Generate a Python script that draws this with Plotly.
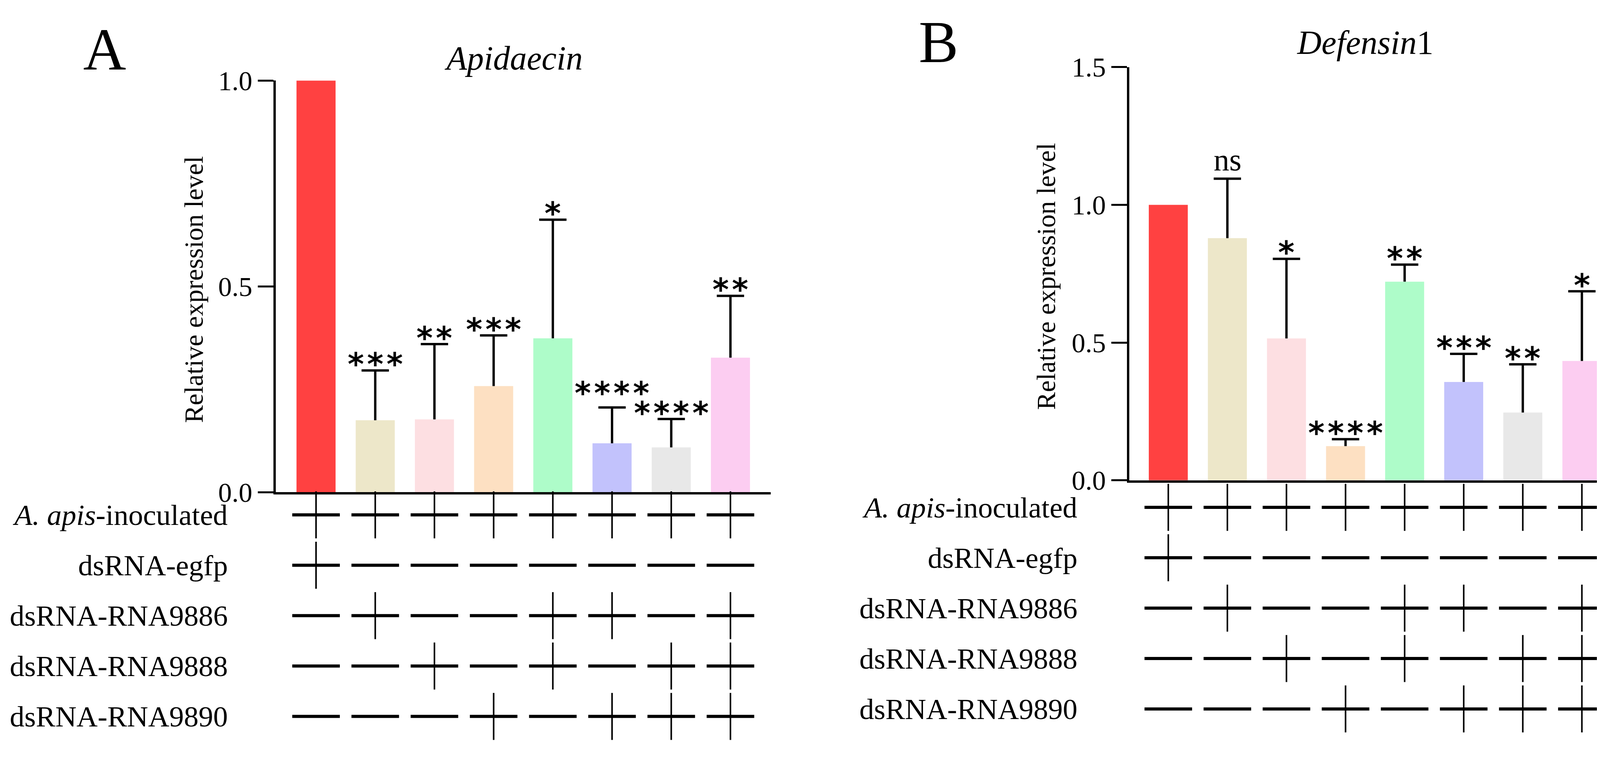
import plotly.graph_objects as go

W, H = 4181, 1951
PAGE_PAD = 8  # default body margin of the html page

# bar heights, upper SD and significance marks
apid_mean = [1.0, 0.175, 0.177, 0.258, 0.374, 0.119, 0.109, 0.327]
apid_sd = [None, 0.121, 0.183, 0.123, 0.288, 0.087, 0.069, 0.150]
apid_sig = ["", "***", "**", "***", "*", "****", "****", "**"]

def_mean = [1.0, 0.879, 0.515, 0.124, 0.721, 0.357, 0.246, 0.433]
def_sd = [None, 0.216, 0.289, 0.025, 0.062, 0.102, 0.175, 0.253]
def_sig = ["", "ns", "*", "****", "**", "***", "**", "*"]

bar_colors = ["#FF4141", "#EDE7C9", "#FDDFE2", "#FDE0C2",
              "#AEFCC9", "#C2C2FC", "#E8E8E8", "#FCCDF1"]

# treatment table under the bars
row_labels = ["<i>A. apis</i>-inoculated", "dsRNA-egfp", "dsRNA-RNA9886",
              "dsRNA-RNA9888", "dsRNA-RNA9890"]
inoculated = ["+", "+", "+", "+", "+", "+", "+", "+"]
egfp = ["+", "-", "-", "-", "-", "-", "-", "-"]
rna9886 = ["-", "+", "-", "-", "+", "+", "-", "+"]
rna9888 = ["-", "-", "+", "-", "+", "-", "+", "+"]
rna9890 = ["-", "-", "-", "+", "-", "+", "+", "+"]
table_rows = [inoculated, egfp, rna9886, rna9888, rna9890]

SERIF = "Liberation Serif"
STAR_FONT = "DejaVu Sans"
STAR_SIZE = 80
STAR_H = 32      # approx glyph height of the asterisks, px
STAR_GAP = 20    # gap between cap and stars, px


def px(v):
    return (v - PAGE_PAD) / W


def py(v):
    return 1 - (v - PAGE_PAD) / H


def star_width(s):
    return 48 * len(s) - 14


fig = go.Figure()
annotations = []


def add_panel(xa, ya, ta, means, sds, sigs, title, letter, geo):
    idx = list(range(len(means)))
    xref, yref, tref = xa.replace("axis", ""), ya.replace("axis", ""), ta.replace("axis", "")
    fig.add_trace(go.Bar(x=idx, y=means, width=0.66,
                         marker=dict(color=bar_colors, line=dict(width=0)),
                         xaxis=xref, yaxis=yref, showlegend=False))

    # upper-only SD bars: stem + cap
    tops = [m + s if s is not None else None for m, s in zip(means, sds)]
    ex, ey, cx, cy = [], [], [], []
    for i, (m, t) in enumerate(zip(means, tops)):
        if t is None:
            continue
        ex += [i, i, None]
        ey += [m, t, None]
        cx.append(i)
        cy.append(t)
    fig.add_trace(go.Scatter(x=ex, y=ey, mode="lines", line=dict(color="black", width=6),
                             xaxis=xref, yaxis=yref, showlegend=False, hoverinfo="skip"))
    fig.add_trace(go.Scatter(x=cx, y=cy, mode="markers", xaxis=xref, yaxis=yref,
                             marker=dict(symbol="line-ew", size=50, line=dict(width=6, color="black")),
                             showlegend=False, hoverinfo="skip"))

    # significance labels; raise a label when it would run into its neighbour
    ppu = (geo["y0"] - geo["y1"]) / geo["ymax"]      # px per unit
    pitch = (geo["x1"] - geo["x0"]) / (geo["xrange"][1] - geo["xrange"][0])
    bottoms = {}
    for i, s in enumerate(sigs):
        if s:
            cap_px = geo["y0"] - tops[i] * ppu
            bottoms[i] = cap_px - STAR_GAP
    keys = sorted(bottoms)
    for a, b in zip(keys, keys[1:]):
        if b != a + 1 or "ns" in (sigs[a], sigs[b]):
            continue
        if (star_width(sigs[a]) + star_width(sigs[b])) / 2 <= pitch:
            continue
        hi, lo = (a, b) if bottoms[a] < bottoms[b] else (b, a)
        limit = bottoms[lo] - STAR_H - STAR_GAP
        if bottoms[hi] > limit:
            bottoms[hi] = limit

    for i, s in enumerate(sigs):
        if not s:
            continue
        cap_px = geo["y0"] - tops[i] * ppu
        if s == "ns":
            annotations.append(dict(x=i, y=tops[i], xref=xref, yref=yref, text=s, showarrow=False,
                                    xanchor="center", yanchor="bottom", yshift=2,
                                    font=dict(family=SERIF, size=80, color="black")))
        else:
            lift = cap_px - bottoms[i]
            annotations.append(dict(x=i, y=tops[i], xref=xref, yref=yref,
                                    text="\u200a".join(s), showarrow=False,
                                    xanchor="center", yanchor="bottom",
                                    yshift=lift - 0.66 * STAR_SIZE,
                                    font=dict(family=STAR_FONT, size=STAR_SIZE, color="black",
                                              weight="bold")))

    # +/- marks
    hx, hy, vx, vy = [], [], [], []
    for r, signs in enumerate(table_rows):
        for c, s in enumerate(signs):
            hx.append(c)
            hy.append(r)
            if s == "+":
                vx.append(c)
                vy.append(r)
    fig.add_trace(go.Scatter(x=hx, y=hy, mode="markers", xaxis=xref, yaxis=tref,
                             marker=dict(symbol="line-ew", size=87, line=dict(width=8, color="black")),
                             showlegend=False, hoverinfo="skip"))
    fig.add_trace(go.Scatter(x=vx, y=vy, mode="markers", xaxis=xref, yaxis=tref,
                             marker=dict(symbol="line-ns", size=86, line=dict(width=4, color="black")),
                             showlegend=False, hoverinfo="skip"))
    for r, lab in enumerate(row_labels):
        annotations.append(dict(x=px(geo["label_right"]), xref="paper", y=r, yref=tref, text=lab,
                                showarrow=False, xanchor="right", yanchor="middle",
                                font=dict(family=SERIF, size=75, color="black")))

    # panel letter, gene title, y title
    annotations.append(dict(x=px(geo["letter_x"]), y=py(geo["letter_base"] + 33), xref="paper", yref="paper",
                            text=letter, showarrow=False, xanchor="center", yanchor="bottom",
                            font=dict(family=SERIF, size=152, color="black")))
    annotations.append(dict(x=px(geo["title_x"]), y=py(geo["title_base"] + 19), xref="paper", yref="paper",
                            text=title, showarrow=False, xanchor="center", yanchor="bottom",
                            font=dict(family=SERIF, size=86, color="black")))
    annotations.append(dict(x=px(geo["ytitle_x"]), y=py(geo["ytitle_y"]), xref="paper", yref="paper",
                            text="Relative expression level", textangle=-90, showarrow=False,
                            xanchor="center", yanchor="middle",
                            font=dict(family=SERIF, size=68, color="black")))

    fig.update_layout(**{
        xa: dict(domain=[px(geo["x0"]), px(geo["x1"])], range=geo["xrange"], anchor=yref,
                 showline=True, linewidth=6, linecolor="black", ticks="", showticklabels=False,
                 showgrid=False, zeroline=False),
        ya: dict(domain=[py(geo["y0"]), py(geo["y1"])], range=[0, geo["ymax"]], anchor=xref,
                 tickvals=geo["yticks"], tickformat=".1f", ticks="outside", ticklen=40, tickwidth=5,
                 tickcolor="black", showline=True, linewidth=6, linecolor="black",
                 tickfont=dict(family=SERIF, size=70, color="black"),
                 showgrid=False, zeroline=False),
        ta: dict(domain=[py(geo["t1"]), py(geo["t0"])], range=[len(table_rows) - 0.5, -0.5],
                 anchor=xref, visible=False),
    })


add_panel("xaxis", "yaxis", "yaxis3", apid_mean, apid_sd, apid_sig,
          "<i>Apidaecin</i>", "A",
          dict(x0=706, x1=1973, xrange=[-0.68, 7.68], y0=1273, y1=175, ymax=1.0,
               yticks=[0, 0.5, 1.0], t0=1266, t1=1938, label_right=585,
               letter_x=268, letter_base=149, title_x=1315, title_base=148,
               ytitle_x=496, ytitle_y=732))
add_panel("xaxis2", "yaxis2", "yaxis4", def_mean, def_sd, def_sig,
          "<i>Defensin</i>1", "B",
          dict(x0=2891, x1=4154, xrange=[-0.66, 7.69], y0=1241, y1=139, ymax=1.5,
               yticks=[0, 0.5, 1.0, 1.5], t0=1246, t1=1918, label_right=2760,
               letter_x=2402, letter_base=129, title_x=3495, title_base=107,
               ytitle_x=2678, ytitle_y=697))

fig.update_layout(width=W, height=H, margin=dict(l=0, r=0, t=0, b=0),
                  paper_bgcolor="white", plot_bgcolor="rgba(0,0,0,0)",
                  font=dict(family=SERIF, color="black"),
                  annotations=annotations, showlegend=False)

fig.write_html("out.html")
